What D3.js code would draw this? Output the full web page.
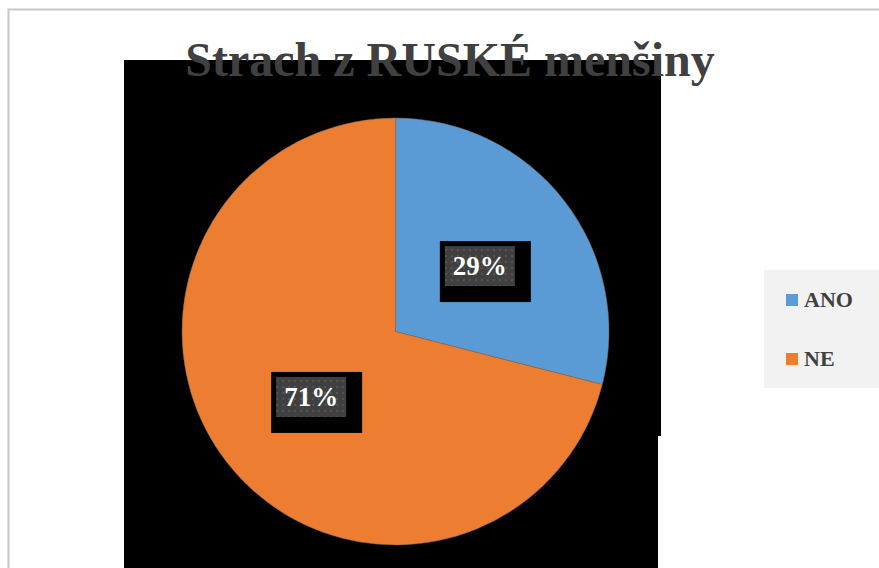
<!DOCTYPE html>
<html><head><meta charset="utf-8">
<script src="https://cdn.jsdelivr.net/npm/d3@7"></script>
<style>html,body{margin:0;padding:0;background:#fff;overflow:hidden}</style>
</head><body>
<svg id="c" width="879" height="568"></svg>
<script>
const categories = ["ANO", "NE"];
const values = [29, 71];
const labels = ["29%", "71%"];
const colors = ["#5b9bd5", "#ed7d31"];
const title = "Strach z RUSKÉ menšiny";

const svg = d3.select("#c");
const font = "'Liberation Serif','Times New Roman',serif";

// chart border
svg.append("rect").attr("x", 8.5).attr("y", 9.5).attr("width", 900).attr("height", 600)
  .attr("fill", "#fff").attr("stroke", "#c8c8c8").attr("stroke-width", 2);

// black backdrop behind plot
svg.append("path")
  .attr("d", "M124,60 H661 V436 H658 V568 H124 Z")
  .attr("fill", "#000");

// title
svg.append("text").attr("x", 450).attr("y", 76).attr("text-anchor", "middle")
  .attr("font-family", font).attr("font-weight", "bold").attr("font-size", 48)
  .attr("fill", "#404040").text(title);

// pattern for label boxes
const defs = svg.append("defs");
const pat = defs.append("pattern").attr("id", "dots").attr("patternUnits", "userSpaceOnUse")
  .attr("width", 6).attr("height", 6);
pat.append("rect").attr("width", 6).attr("height", 6).attr("fill", "#404040");
pat.append("rect").attr("x", 1).attr("y", 1).attr("width", 2).attr("height", 2).attr("fill", "#555555");

// pie
const cx = 395.5, cy = 331.5, r = 213.5;
const pie = d3.pie().sort(null).value(d => d)(values);
const arc = d3.arc().innerRadius(0).outerRadius(r);
const g = svg.append("g").attr("transform", `translate(${cx},${cy})`);
g.selectAll("path.slice").data(pie).join("path").attr("class", "slice")
  .attr("d", arc).attr("fill", (d, i) => colors[i])
  .attr("stroke", "#7a6a60").attr("stroke-width", 0.5);

// data labels
const labelArc = d3.arc().innerRadius(r * 0.5).outerRadius(r * 0.5);
const lg = g.selectAll("g.lbl").data(pie).join("g").attr("class", "lbl")
  .attr("transform", d => {
    const [x, y] = labelArc.centroid(d);
    return `translate(${x},${y})`;
  });
lg.append("rect").attr("x", -40).attr("y", -25).attr("width", 91).attr("height", 61).attr("fill", "#000");
lg.append("rect").attr("x", -35).attr("y", -20).attr("width", 70).attr("height", 40).attr("fill", "url(#dots)");
lg.append("text").attr("x", 0).attr("y", 9).attr("text-anchor", "middle")
  .attr("font-family", font).attr("font-weight", "bold").attr("font-size", 27)
  .attr("fill", "#fff").text((d, i) => labels[i]);

// legend
svg.append("rect").attr("x", 764).attr("y", 270).attr("width", 120).attr("height", 118).attr("fill", "#f2f2f2");
const leg = svg.selectAll("g.leg").data(categories).join("g").attr("class", "leg")
  .attr("transform", (d, i) => `translate(786,${294 + i * 59})`);
leg.append("rect").attr("width", 12).attr("height", 12).attr("fill", (d, i) => colors[i]);
leg.append("text").attr("x", 18).attr("y", 13).attr("font-family", font).attr("font-weight", "bold")
  .attr("font-size", 22).attr("fill", "#404040").text(d => d);
</script>
</body></html>
